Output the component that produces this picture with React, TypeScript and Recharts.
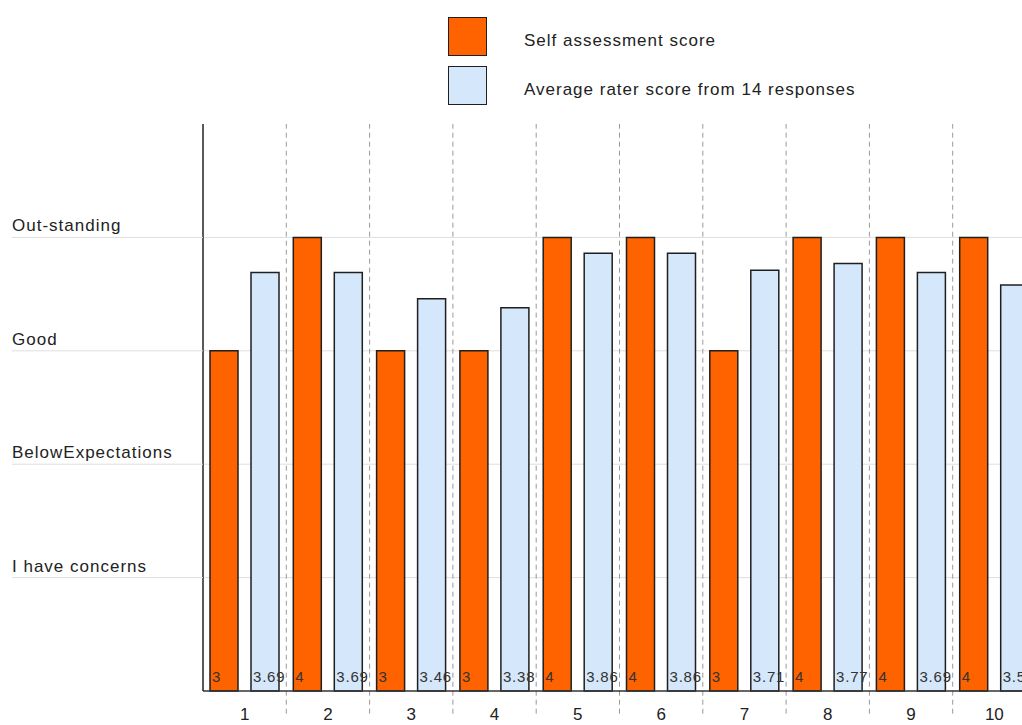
import { BarChart, Bar, XAxis, YAxis, CartesianGrid, ReferenceLine, LabelList } from "recharts"

const questions = ["1", "2", "3", "4", "5", "6", "7", "8", "9", "10"]
const selfScores = [3, 4, 3, 3, 4, 4, 3, 4, 4, 4]
const raterScores = [3.69, 3.69, 3.46, 3.38, 3.86, 3.86, 3.71, 3.77, 3.69, 3.58]
const levelTicks = [1, 2, 3, 4]
const levelLabels = ["I have concerns", "BelowExpectations", "Good", "Out-standing"]
const seriesNames = ["Self assessment score", "Average rater score from 14 responses"]

const FONT = '"Liberation Sans", Arial, sans-serif'
const ORANGE = "#ff6300"
const BLUE = "#d5e7fb"
const EDGE = "#1f1f1f"

const data = questions.map((q, i) => ({ q, self: selfScores[i], rater: raterScores[i] }))

function LevelTick(props: any) {
  const { y, payload } = props
  const label = levelLabels[levelTicks.indexOf(payload.value)]
  return (
    <g>
      <line x1={12} x2={203} y1={y} y2={y} stroke="#dedede" strokeWidth={1} />
      <text x={12} y={y - 6} fontSize={17} letterSpacing={1} fill="#222" fontFamily={FONT}>
        {label}
      </text>
    </g>
  )
}

function QuestionTick(props: any) {
  const { x, y, payload } = props
  return (
    <text x={x} y={y + 21} textAnchor="middle" fontSize={17} fill="#222" fontFamily={FONT}>
      {payload.value}
    </text>
  )
}

function ValueLabel(props: any) {
  const { x, y, height, value } = props
  return (
    <text x={x + 2} y={y + height - 9} fontSize={15} fill="#333" fontFamily={FONT} letterSpacing={0.8}>
      {value}
    </text>
  )
}

function LegendBlock() {
  const colors = [ORANGE, BLUE]
  const tops = [17, 66]
  return (
    <>
      {seriesNames.map((name, i) => (
        <div key={name}>
          <div
            style={{
              position: "absolute",
              left: 448,
              top: tops[i],
              width: 37,
              height: 37,
              background: colors[i],
              border: `1.5px solid ${EDGE}`,
            }}
          />
          <div
            style={{
              position: "absolute",
              left: 524,
              top: tops[i] + 14,
              fontSize: 17,
              letterSpacing: 1,
              fontFamily: FONT,
              color: "#222",
              whiteSpace: "nowrap",
            }}
          >
            {name}
          </div>
        </div>
      ))}
    </>
  )
}

export default function App() {
  return (
    <div
      style={{
        position: "fixed",
        left: 0,
        top: 0,
        width: 1022,
        height: 725,
        overflow: "hidden",
        background: "#fff",
      }}
    >
      <LegendBlock />
      <div style={{ position: "absolute", left: 0, top: 0 }}>
        <BarChart
          width={1036}
          height={725}
          data={data}
          margin={{ top: 124, right: 0, left: 0, bottom: 0 }}
          barSize={28}
          barGap={13}
        >
          <CartesianGrid vertical={false} horizontalValues={levelTicks} stroke="#dedede" />
          <XAxis
            dataKey="q"
            axisLine={{ stroke: "#333", strokeWidth: 1.5 }}
            tickLine={false}
            tick={<QuestionTick />}
            height={34}
            interval={0}
          />
          <YAxis
            domain={[0, 5]}
            ticks={levelTicks}
            width={203}
            axisLine={{ stroke: "#222", strokeWidth: 1.5 }}
            tickLine={false}
            tick={<LevelTick />}
          />
          {questions.slice(1).map((q) => (
            <ReferenceLine
              key={q}
              segment={[{ x: q, y: -0.2 }, { x: q, y: 5 }]}
              position="start"
              ifOverflow="visible"
              stroke="#999"
              strokeDasharray="5 4"
            />
          ))}
          <Bar dataKey="self" fill={ORANGE} stroke={EDGE} strokeWidth={1.5} isAnimationActive={false}>
            <LabelList dataKey="self" content={<ValueLabel />} />
          </Bar>
          <Bar dataKey="rater" fill={BLUE} stroke={EDGE} strokeWidth={1.5} isAnimationActive={false}>
            <LabelList dataKey="rater" content={<ValueLabel />} />
          </Bar>
        </BarChart>
      </div>
    </div>
  )
}
